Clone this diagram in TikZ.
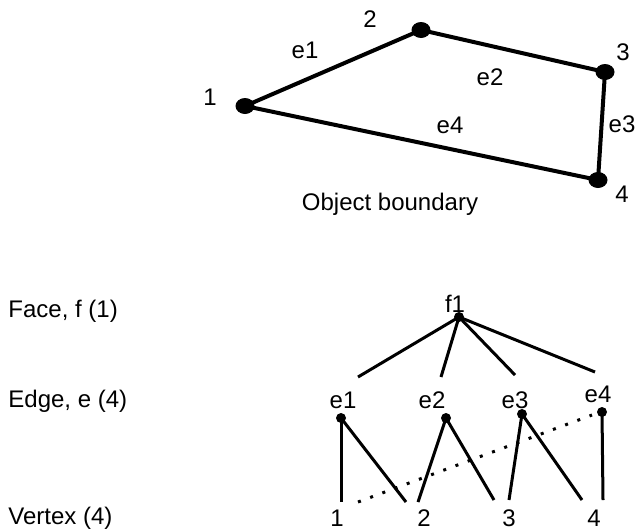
\documentclass[tikz,border=0pt]{standalone}
\usepackage{fontspec}
\setmainfont{Liberation Sans}
\usetikzlibrary{shapes.geometric}

\tikzset{
  lbl/.style={anchor=base,inner sep=0pt},
  bnd/.style={line width=2pt},
  tree/.style={line width=1.5pt},
  bigdot/.style={ellipse,fill=black,inner sep=0pt,minimum width=9.5pt,minimum height=8pt},
  smalldot/.style={circle,fill=black,inner sep=0pt,minimum size=5pt}
}

\begin{document}
\begin{tikzpicture}[x=0.5pt,y=-0.5pt,every node/.style={font=\fontsize{12}{14}\selectfont}]

\useasboundingbox (0,0) rectangle (636,531);

% object boundary
\node[bigdot] (v1) at (245,106) {};
\node[bigdot] (v2) at (421,30) {};
\node[bigdot] (v3) at (605,72) {};
\node[bigdot] (v4) at (598,180) {};
\draw[bnd] (v1.center) -- (v2.center) -- (v3.center) -- (v4.center) -- cycle;

\node[lbl] (n1) at (210,105) {1};
\node[lbl] (n2) at (370,27) {2};
\node[lbl] (n3) at (623,60) {3};
\node[lbl] (n4) at (622,202) {4};
\node[lbl] (e1) at (305,58) {e1};
\node[lbl] (e2) at (490,85) {e2};
\node[lbl] (e3) at (622,132) {e3};
\node[lbl] (e4) at (450,133) {e4};
\node[lbl] (title) at (390,210) {Object boundary};

% levels
\node[lbl,anchor=base west] (face) at (8,317) {Face, f (1)};
\node[lbl,anchor=base west] (edge) at (8,407) {Edge, e (4)};
\node[lbl,anchor=base west] (vert) at (8,524) {Vertex (4)};

% face
\node[smalldot] (f) at (459,317) {};
\node[lbl] (fl) at (455,312) {f1};
\coordinate (f-a) at (358,377);
\coordinate (f-b) at (441,377);
\coordinate (f-c) at (515,375);
\coordinate (f-d) at (595,372);
\draw[tree] (f.center) -- (f-a);
\draw[tree] (f.center) -- (f-b);
\draw[tree] (f.center) -- (f-c);
\draw[tree] (f.center) -- (f-d);

% edges
\node[lbl] (te1) at (343,408) {e1};
\node[lbl] (te2) at (432,408) {e2};
\node[lbl] (te3) at (515,408) {e3};
\node[lbl] (te4) at (598,402) {e4};
\node[smalldot] (d1) at (341,418) {};
\node[smalldot] (d2) at (446,418) {};
\node[smalldot] (d3) at (522,414) {};
\node[smalldot] (d4) at (602,412) {};

% vertices
\node[lbl] (t1) at (337,526) {1};
\node[lbl] (t2) at (424,526) {2};
\node[lbl] (t3) at (509,526) {3};
\node[lbl] (t4) at (594,526) {4};
\coordinate (d1-a) at (341,502);
\coordinate (d1-b) at (406,502);
\coordinate (d2-a) at (418,502);
\coordinate (d2-b) at (494,500);
\coordinate (d3-a) at (509,500);
\coordinate (d3-b) at (582,500);
\coordinate (d4-a) at (603,500);
\draw[tree] (d1.center) -- (d1-a);
\draw[tree] (d1.center) -- (d1-b);
\draw[tree] (d2.center) -- (d2-a);
\draw[tree] (d2.center) -- (d2-b);
\draw[tree] (d3.center) -- (d3-a);
\draw[tree] (d3.center) -- (d3-b);
\draw[tree] (d4.center) -- (d4-a);

% dotted link
\coordinate (p-a) at (358,502);
\coordinate (p-b) at (592,415);
\draw[line width=1.5pt,dash pattern=on 1.5pt off 5pt] (p-a) -- (p-b);

\end{tikzpicture}
\end{document}
